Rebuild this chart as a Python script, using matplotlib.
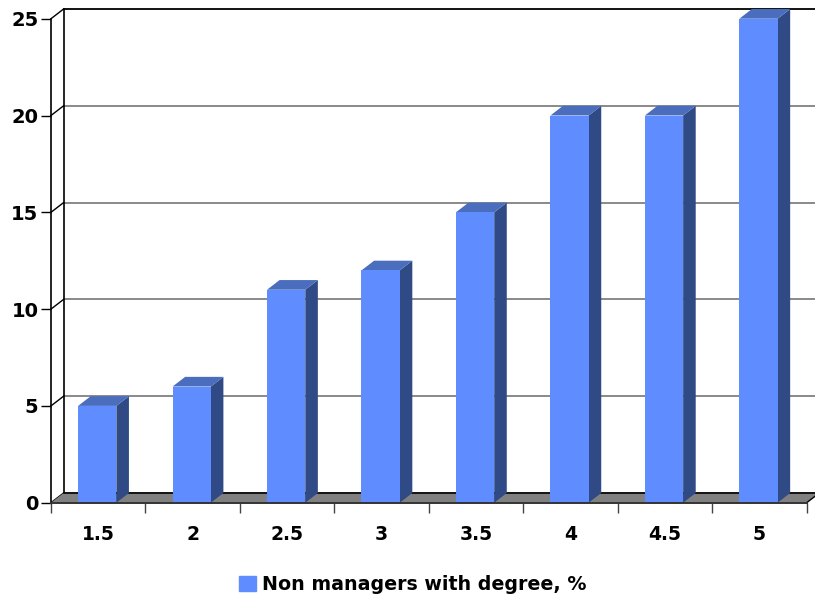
#!/usr/bin/env python3
# -*- coding: utf-8 -*-

"""
Pseudo-3D column chart: share of non managers with a degree.
Depth is faked with polygons offset up and to the right of the front plane.
"""

import matplotlib
matplotlib.use("Agg")
import matplotlib.pyplot as plt
from matplotlib.patches import Patch, Polygon

categories = ["1.5", "2", "2.5", "3", "3.5", "4", "4.5", "5"]
values = [5, 6, 11, 12, 15, 20, 20, 25]
y_ticks = [0, 5, 10, 15, 20, 25]
series_name = "Non managers with degree, %"

FRONT = "#5f8dff"
TOP = "#4a6dbd"
SIDE = "#2f4a85"
FLOOR = "#808080"
GRID = "#808080"

# depth of the box in data units
DX = 0.133
DY = 0.5
BAR_LEFT = 0.287
BAR_W = 0.405

plt.rcParams["font.family"] = ["DejaVu Sans"]
plt.rcParams["font.weight"] = "bold"

W, H = 815, 599
fig = plt.figure(figsize=(W / 100, H / 100), dpi=100)
ax = fig.add_axes([51 / W, (H - 502.7) / H, 755.7 / W, 484 / H])
ax.set_xlim(0, len(categories))
ax.set_ylim(0, 25)
ax.patch.set_visible(False)


def poly(points, color, z=2, lw=0):
    ax.add_patch(Polygon(points, closed=True, facecolor=color, edgecolor=color,
                         linewidth=lw, zorder=z, clip_on=False))


n = len(categories)

# Back wall gridlines and their diagonal joins to the left axis
for t in y_ticks:
    color = "black" if t == y_ticks[-1] else GRID
    ax.plot([DX, n + DX], [t + DY, t + DY], color=color, lw=1.3, zorder=1, clip_on=False)
    ax.plot([0, DX], [t, t + DY], color="black", lw=1, zorder=1, clip_on=False)
ax.plot([DX, DX], [DY, y_ticks[-1] + DY], color="black", lw=1.2, zorder=1, clip_on=False)

# Floor
poly([(0, 0), (n, 0), (n + DX, DY), (DX, DY)], FLOOR, z=1.5)
ax.plot([DX, n + DX], [DY, DY], color="black", lw=1.2, zorder=1.6, clip_on=False)
ax.plot([n, n + DX], [0, DY], color="black", lw=1, zorder=1.6, clip_on=False)

# Columns: side, top, then front face
for i, v in enumerate(values):
    x0 = i + BAR_LEFT
    x1 = x0 + BAR_W
    poly([(x1, 0), (x1 + DX, DY), (x1 + DX, v + DY), (x1, v)], SIDE, z=3)
    poly([(x0, v), (x1, v), (x1 + DX, v + DY), (x0 + DX, v + DY)], TOP, z=3)
    poly([(x0, 0), (x1, 0), (x1, v), (x0, v)], FRONT, z=4)

# Axes and ticks
for side in ["top", "right"]:
    ax.spines[side].set_visible(False)
ax.spines["left"].set_linewidth(1.2)
ax.spines["bottom"].set_linewidth(1.4)
ax.spines["bottom"].set_color("#333333")
ax.spines["left"].set_zorder(5)
ax.spines["bottom"].set_zorder(5)

ax.set_yticks(y_ticks)
ax.set_xticks([i + 0.5 for i in range(n)])
ax.set_xticklabels(categories)
ax.set_xticks(range(n + 1), minor=True)
ax.tick_params(axis="x", which="major", length=0, pad=16, labelsize=13.5)
ax.tick_params(axis="x", which="minor", length=7, width=1, color="#444444")
ax.tick_params(axis="y", length=7, width=1, pad=2, labelsize=14)

fig.legend(handles=[Patch(facecolor=FRONT, edgecolor=FRONT, label=series_name)],
           loc="center", bbox_to_anchor=(413 / W, (H - 585) / H), frameon=False,
           fontsize=13.7, handlelength=0.85, handleheight=0.85, handletextpad=0.35)

fig.savefig("out.png", dpi=100)
